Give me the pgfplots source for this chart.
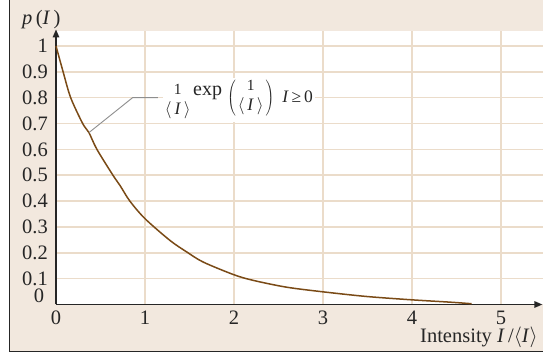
\documentclass[border=0pt]{standalone}
\usepackage{fontspec}
\setmainfont{Liberation Serif}
\usepackage{pgfplots}
\pgfplotsset{compat=1.18}
\usetikzlibrary{arrows.meta}

\definecolor{bgbeige}{HTML}{F2E8DE}
\definecolor{gridtan}{HTML}{EBDCCA}
\definecolor{curvebrown}{HTML}{7A4A16}
\definecolor{ink}{HTML}{262626}
\definecolor{leader}{HTML}{8E8E8E}
\newcommand\lbl{\fontsize{20.5}{23}\selectfont}
% stacked 1 over <I>, drawn without a bar
\newcommand\frc{{\fontsize{15.5}{15.5}\selectfont\begin{tabular}{@{}c@{}}1\\[2.5pt]\fontsize{17.5}{17.5}\selectfont$\langle\,$\textit{I}$\,\rangle$\end{tabular}}}

\begin{document}
\begin{tikzpicture}[x=1pt,y=1pt]
\useasboundingbox (0,0) rectangle (543,361);
\clip (0,0) rectangle (543,361);
\fill[white] (0,0) rectangle (543,361);
\fill[bgbeige] (9.3,9.3) rectangle (543,361);
\fill[white] (56,56.5) rectangle (543,330);
\draw[ink, line width=1.5] (9.3,361) -- (9.3,9.3) -- (543,9.3);

\begin{axis}[
  at={(56pt,56.5pt)}, anchor=south west,
  scale only axis, width=487pt, height=273.5pt,
  xmin=0, xmax=5.472, ymin=0, ymax=1.058,
  axis line style={draw=none},
  clip=false,
  xtick={0,1,2,3,4,5},
  ytick={0.1,0.2,0.3,0.4,0.5,0.6,0.7,0.8,0.9,1},
  yticklabels={0.1,0.2,0.3,0.4,0.5,0.6,0.7,0.8,0.9,1},
  grid=major,
  major grid style={gridtan, line width=1.6},
  major tick length=0pt,
  ticklabel style={font=\lbl, text=ink, inner sep=0pt},
  xticklabel style={yshift=-6pt},
  yticklabel style={xshift=-8pt},
  /pgf/number format/assume math mode=true,
]
% axes with arrow heads
\draw[ink, line width=1.4, -{Triangle[length=8pt,width=6.5pt]}] (axis cs:0,0) -- (axis cs:5.465,0);
\draw[ink, line width=1.4, -{Triangle[length=8pt,width=6.5pt]}] (axis cs:0,0) -- (axis cs:0,1.064);

% probability density of the intensity
\addplot[curvebrown, line width=1.5, smooth] coordinates {
 (0,1.0) (0.08,0.9) (0.165,0.8) (0.30,0.7) (0.37,0.665) (0.46,0.6)
 (0.64,0.5) (0.72,0.46) (0.83,0.4) (1.0,0.332) (1.28,0.248) (1.47,0.203)
 (1.655,0.164) (2.0,0.115) (2.22,0.093) (2.59,0.067) (3.0,0.049)
 (3.49,0.031) (4.0,0.018) (4.43,0.009) (4.67,0.003)
};

% formula callout
\draw[leader, line width=0.9] (axis cs:0.37,0.665) -- (axis cs:0.86,0.8) -- (axis cs:1.146,0.8);
\node[fill=white, inner sep=2pt, anchor=base west, text=ink] at (axis cs:1.2,0.78)
  {\raisebox{-2.5pt}{\frc}\fontsize{20}{20}\selectfont\hspace{2.5pt}\raisebox{7pt}{exp}\hspace{5pt}%
   $\left(\vcenter{\hbox{\hspace{2pt}\frc\hspace{2pt}}}\right)$\hspace{8pt}\fontsize{17.5}{20}\selectfont\textit{I}\,≥\,0};
\end{axis}

\node[anchor=center, text=ink, font=\lbl, inner sep=0pt] at (39,65) {0};
\node[anchor=base west, text=ink, font=\lbl, inner sep=0pt] at (22,336) {\textit{p}\,(\textit{I}\,)};
\node[anchor=base west, text=ink, font=\lbl, inner sep=0pt] at (420,18) {Intensity \textit{I}\,/$\langle$\textit{I}$\rangle$};
\end{tikzpicture}
\end{document}
